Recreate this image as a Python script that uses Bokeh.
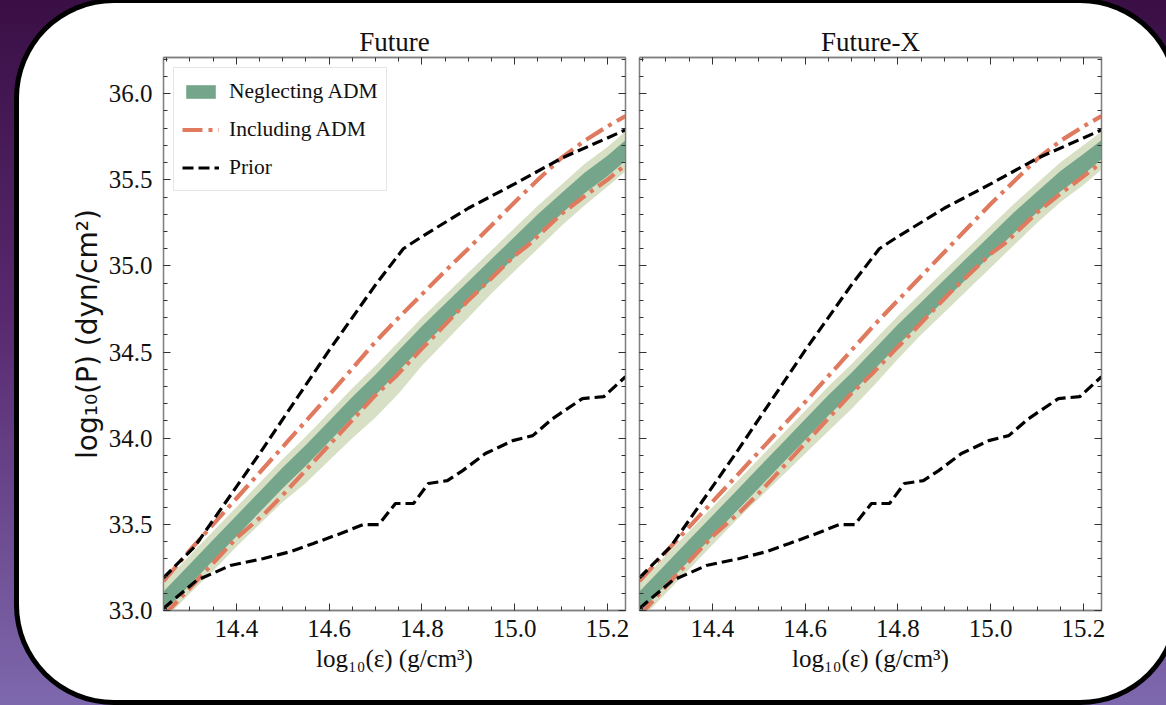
from bokeh.plotting import figure
from bokeh.models import (Range1d, LinearAxis, Legend, LegendItem, SingleIntervalTicker,
                          PrintfTickFormatter, GlobalInlineStyleSheet, Row)
from bokeh.embed import file_html
from bokeh.resources import INLINE

# ---------------- data ----------------
X_RANGE = (14.243, 15.239)
Y_RANGE = (33.0, 36.21)

panel_titles = ["Future", "Future-X"]
legend_labels = ["Neglecting ADM", "Including ADM", "Prior"]

# prior bounds (identical in both panels)
prior_hi_x = [14.243, 14.31, 14.45, 14.60, 14.70, 14.76, 14.80, 14.90, 15.00, 15.10, 15.20, 15.239]
prior_hi_y = [33.19, 33.37, 33.91, 34.51, 34.89, 35.10, 35.17, 35.335, 35.476, 35.624, 35.743, 35.79]
prior_lo_x = [14.243, 14.314, 14.387, 14.459, 14.517, 14.566, 14.625, 14.674, 14.707, 14.743,
              14.782, 14.814, 14.855, 14.888, 14.937, 14.996, 15.039, 15.082, 15.146, 15.192, 15.239]
prior_lo_y = [33.012, 33.174, 33.261, 33.302, 33.342, 33.389, 33.447, 33.499, 33.499, 33.621,
              33.621, 33.737, 33.754, 33.812, 33.911, 33.986, 34.015, 34.114, 34.230, 34.241, 34.357]

# posterior bands neglecting ADM
band_x = [14.243, 14.30, 14.35, 14.40, 14.45, 14.50, 14.55, 14.60, 14.65, 14.70, 14.75,
          14.80, 14.85, 14.90, 14.95, 15.00, 15.05, 15.10, 15.15, 15.20, 15.239]

fut_dark_lo = [32.99, 33.15, 33.29, 33.43, 33.57, 33.71, 33.84, 33.98, 34.12, 34.25, 34.39,
               34.53, 34.66, 34.79, 34.92, 35.05, 35.18, 35.30, 35.42, 35.52, 35.61]
fut_dark_hi = [33.11, 33.27, 33.41, 33.55, 33.69, 33.83, 33.96, 34.10, 34.24, 34.37, 34.51,
               34.65, 34.78, 34.91, 35.04, 35.17, 35.30, 35.42, 35.54, 35.64, 35.73]
fut_light_lo = [32.94, 33.10, 33.23, 33.37, 33.50, 33.63, 33.74, 33.87, 34.00, 34.12, 34.26,
                34.42, 34.56, 34.70, 34.84, 34.97, 35.10, 35.23, 35.35, 35.46, 35.55]
fut_light_hi = [33.16, 33.32, 33.46, 33.60, 33.74, 33.88, 34.01, 34.15, 34.29, 34.42, 34.56,
                34.70, 34.83, 34.96, 35.09, 35.22, 35.35, 35.47, 35.59, 35.69, 35.78]

futx_dark_lo = [32.99, 33.15, 33.29, 33.43, 33.57, 33.71, 33.85, 33.99, 34.13, 34.26, 34.40,
                34.54, 34.67, 34.80, 34.93, 35.06, 35.19, 35.31, 35.43, 35.53, 35.62]
futx_dark_hi = [33.11, 33.27, 33.41, 33.55, 33.69, 33.83, 33.97, 34.11, 34.25, 34.38, 34.52,
                34.66, 34.79, 34.92, 35.05, 35.18, 35.31, 35.43, 35.55, 35.65, 35.73]
futx_light_lo = [32.94, 33.10, 33.24, 33.38, 33.52, 33.65, 33.78, 33.91, 34.04, 34.17, 34.31,
                 34.46, 34.60, 34.73, 34.86, 34.99, 35.12, 35.25, 35.37, 35.47, 35.56]
futx_light_hi = [33.16, 33.32, 33.46, 33.60, 33.74, 33.88, 34.02, 34.16, 34.30, 34.43, 34.57,
                 34.71, 34.84, 34.97, 35.10, 35.23, 35.36, 35.48, 35.60, 35.70, 35.78]

# bounds including ADM
inc_hi_x = [14.243, 14.30, 14.40, 14.50, 14.60, 14.70, 14.75, 14.80, 14.85, 14.90, 14.95,
            15.00, 15.05, 15.10, 15.15, 15.20, 15.239]
fut_inc_hi_y = [33.17, 33.35, 33.65, 33.95, 34.25, 34.56, 34.70, 34.835, 34.97, 35.10, 35.235,
                35.37, 35.50, 35.625, 35.725, 35.81, 35.87]
futx_inc_hi_y = [33.17, 33.34, 33.63, 33.92, 34.21, 34.51, 34.66, 34.80, 34.94, 35.08, 35.22,
                 35.36, 35.49, 35.62, 35.725, 35.81, 35.87]
inc_lo_x = [14.243, 14.30, 14.40, 14.459, 14.50, 14.60, 14.70, 14.743, 14.80, 14.829, 14.90,
            14.922, 15.00, 15.03, 15.10, 15.146, 15.20, 15.239]
fut_inc_lo_y = [32.97, 33.13, 33.42, 33.557, 33.67, 33.96, 34.25, 34.357, 34.52, 34.60, 34.80,
                34.856, 35.06, 35.123, 35.30, 35.396, 35.50, 35.587]
futx_inc_lo_y = [32.97, 33.14, 33.43, 33.57, 33.68, 33.97, 34.26, 34.37, 34.53, 34.61, 34.81,
                 34.87, 35.07, 35.13, 35.31, 35.41, 35.52, 35.60]

# ---------------- style ----------------
SERIF = "Liberation Serif"
SANS = "DejaVu Sans"
GRAY = "#808080"
DARK = "#75a68b"
LIGHT = "#d7e0c4"
CORAL = "#e07a5f"


def style_axis(ax, show_labels, standoff=8):
    ax.axis_line_color = GRAY
    ax.axis_line_width = 1.3
    ax.major_tick_in = 7
    ax.major_tick_out = 0
    ax.minor_tick_in = 4
    ax.minor_tick_out = 0
    ax.major_tick_line_color = "#333333"
    ax.minor_tick_line_color = "#333333"
    ax.major_tick_line_width = 1
    ax.minor_tick_line_width = 1
    if show_labels:
        ax.formatter = PrintfTickFormatter(format="%.1f")
        ax.major_label_text_font = SERIF
        ax.major_label_text_font_size = "25px"
        ax.major_label_text_color = "#111111"
        ax.major_label_standoff = standoff
    else:
        ax.major_label_text_font_size = "1px"
        ax.major_label_text_color = None
        ax.major_label_standoff = 0


def make_panel(title, d_lo, d_hi, l_lo, l_hi, inc_hi, inc_lo, first, ml, mr):
    p = figure(frame_width=462, frame_height=553,
               x_range=Range1d(*X_RANGE), y_range=Range1d(*Y_RANGE),
               output_backend="svg", toolbar_location=None,
               min_border_left=ml, min_border_right=mr,
               min_border_top=54, min_border_bottom=90,
               border_fill_alpha=0, background_fill_color="white",
               outline_line_color=GRAY, outline_line_width=1.3)
    p.grid.visible = False
    p.title.text = title
    p.title.align = "center"
    p.title.text_font = SERIF
    p.title.text_font_size = "27px"
    p.title.text_font_style = "normal"
    p.title.text_color = "#111111"
    p.title.standoff = 2

    xt = SingleIntervalTicker(interval=0.2, num_minor_ticks=4)
    yt = SingleIntervalTicker(interval=0.5, num_minor_ticks=5)
    p.xaxis.ticker = xt
    p.yaxis.ticker = yt
    style_axis(p.xaxis[0], True, 9)
    style_axis(p.yaxis[0], first, 11)
    p.xaxis.axis_label = "log\u2081\u2080(\u03b5) (g/cm\u00b3)"
    p.xaxis.axis_label_text_font = SERIF
    p.xaxis.axis_label_text_font_size = "25px"
    p.xaxis.axis_label_text_font_style = "normal"
    p.xaxis.axis_label_text_color = "#111111"
    p.xaxis.axis_label_standoff = 5
    if first:
        p.yaxis.axis_label = "log\u2081\u2080(P) (dyn/cm\u00b2)"
        p.yaxis.axis_label_text_font = SANS
        p.yaxis.axis_label_text_font_size = "28px"
        p.yaxis.axis_label_text_font_style = "normal"
        p.yaxis.axis_label_text_color = "#111111"
        p.yaxis.axis_label_standoff = 2

    top = LinearAxis(ticker=xt)
    style_axis(top, False)
    p.add_layout(top, "above")
    right = LinearAxis(ticker=yt)
    style_axis(right, False)
    p.add_layout(right, "right")

    r_light = p.varea(x=band_x, y1=l_lo, y2=l_hi, fill_color=LIGHT)
    r_dark = p.varea(x=band_x, y1=d_lo, y2=d_hi, fill_color=DARK)
    r_inc1 = p.line(inc_hi_x, inc_hi, line_color=CORAL, line_width=4.2, line_dash="20 6 4 6")
    p.line(inc_lo_x, inc_lo, line_color=CORAL, line_width=4.2, line_dash="20 6 4 6")
    r_pr1 = p.line(prior_hi_x, prior_hi_y, line_color="black", line_width=3.2, line_dash="11 5")
    p.line(prior_lo_x, prior_lo_y, line_color="black", line_width=3.2, line_dash="11 5")

    if first:
        leg = Legend(items=[LegendItem(label=legend_labels[0], renderers=[r_dark]),
                            LegendItem(label=legend_labels[1], renderers=[r_inc1]),
                            LegendItem(label=legend_labels[2], renderers=[r_pr1])],
                     location="top_left")
        leg.label_text_font = SERIF
        leg.label_text_font_size = "21.5px"
        leg.label_text_color = "#111111"
        leg.glyph_width = 37
        leg.glyph_height = 17
        leg.label_height = 30
        leg.label_standoff = 10
        leg.spacing = 8
        leg.padding = 8
        leg.margin = 10
        leg.border_line_color = "#cccccc"
        leg.border_line_width = 1.5
        leg.background_fill_alpha = 0.85
        p.add_layout(leg)
    return p


p1 = make_panel(panel_titles[0], fut_dark_lo, fut_dark_hi, fut_light_lo, fut_light_hi,
                fut_inc_hi_y, fut_inc_lo_y, True, 144, 7)
p2 = make_panel(panel_titles[1], futx_dark_lo, futx_dark_hi, futx_light_lo, futx_light_hi,
                futx_inc_hi_y, futx_inc_lo_y, False, 7, 74)

page_css = GlobalInlineStyleSheet(css="""
html { height: 100%; overflow: hidden;
       background: linear-gradient(180deg, #3a0f45 0%, #58296f 45%, #7e68ad 100%); }
body { overflow: hidden; }
""")

layout = Row(children=[p1, p2], stylesheets=[page_css],
             styles={"position": "absolute", "left": "19px", "top": "3px",
                     "background-color": "white", "border-radius": "95px",
                     "box-shadow": "0 0 0 5px black"})

open("out.html", "w").write(file_html(layout, INLINE))
